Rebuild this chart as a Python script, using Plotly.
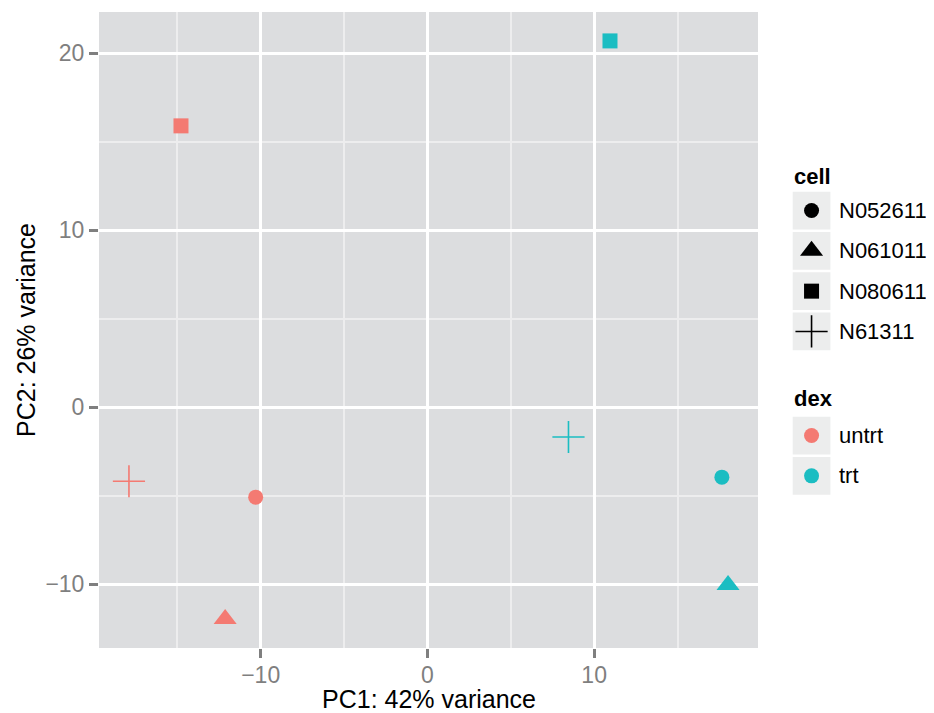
import plotly.graph_objects as go

# ---------------- data ----------------
cells = ["N052611", "N061011", "N080611", "N61311"]
dex_levels = ["untrt", "trt"]

sample_cell = ["N052611", "N052611", "N061011", "N061011",
               "N080611", "N080611", "N61311", "N61311"]
sample_dex = ["untrt", "trt", "untrt", "trt", "untrt", "trt", "untrt", "trt"]
pc1 = [-10.3, 17.66, -12.13, 18.03, -14.78, 10.95, -17.9, 8.46]
pc2 = [-5.08, -3.95, -11.97, -10.04, 15.9, 20.7, -4.18, -1.68]

x_title = "PC1: 42% variance"
y_title = "PC2: 26% variance"
x_ticks = [-10, 0, 10]
y_ticks = [-10, 0, 10, 20]

# ---------------- styles ----------------
dex_colors = {"untrt": "#F47A72", "trt": "#1BBDC2"}
cell_symbols = {"N052611": "circle", "N061011": "triangle-up",
                "N080611": "square", "N61311": "cross-thin-open"}
cell_sizes = {"N052611": 15, "N061011": 20, "N080611": 15, "N61311": 23}
FONT = "Liberation Sans, Arial, Helvetica, sans-serif"
PANEL = "#DCDDDF"
KEYBG = "#ECEDED"
TICKGREY = "#7F7F7F"

# page body has an 8px default margin; work in window pixels and shift
OFF = 8
WIN_W, WIN_H = 934, 713
W, H = WIN_W - OFF, WIN_H - OFF
P_LEFT, P_RIGHT, P_TOP, P_BOTTOM = 99 - OFF, 758 - OFF, 12 - OFF, 648 - OFF
ML, MT, MB = P_LEFT, P_TOP, H - P_BOTTOM
plot_w = W - ML
plot_h = H - MT - MB
main_frac = (P_RIGHT - ML) / plot_w
leg_left = 780 - OFF
leg_frac = (leg_left - ML) / plot_w


def wx(px):  # window px -> figure px (x)
    return px - OFF


def wy(py):
    return py - OFF


def expand(vals, mult=0.05):
    lo, hi = min(vals), max(vals)
    s = hi - lo
    return [lo - mult * s, hi + mult * s]


def px_to_paper_x(px):
    return (px - ML) / plot_w


def px_to_paper_y(py):
    return (H - MB - py) / plot_h


fig = go.Figure()

# data traces, one per cell line, coloured by dex
for c in cells:
    idx = [i for i, sc in enumerate(sample_cell) if sc == c]
    cols = [dex_colors[sample_dex[i]] for i in idx]
    is_line = cell_symbols[c].endswith("open")
    fig.add_trace(go.Scatter(
        x=[pc1[i] for i in idx], y=[pc2[i] for i in idx],
        mode="markers", showlegend=False, xaxis="x", yaxis="y",
        marker=dict(symbol=cell_symbols[c], size=cell_sizes[c], color=cols, opacity=1,
                    line=dict(width=1.6 if is_line else 0, color=cols)),
        hovertext=[f"{c} / {sample_dex[i]}" for i in idx],
    ))

# ---------------- manual ggplot-style legend ----------------
box = 37.7
pitch = 40.3
box_x0 = wx(792.7)
label_x = wx(837.3)
title_x = wx(792.0)
shapes = []
annotations = []


def legend_block(title, title_y, first_top, labels, syms, sizes, colors, widths):
    annotations.append(dict(x=title_x, y=wy(title_y), xref="x2", yref="y2", text=f"<b>{title}</b>",
                            showarrow=False, xanchor="left", yanchor="middle",
                            font=dict(family=FONT, size=22, color="black")))
    ys = []
    for k, lab in enumerate(labels):
        top = wy(first_top) + k * pitch
        shapes.append(dict(type="rect", xref="x2", yref="y2", x0=box_x0, x1=box_x0 + box,
                           y0=top, y1=top + box, fillcolor=KEYBG, line=dict(width=0),
                           layer="below"))
        cy = top + box / 2
        ys.append(cy)
        annotations.append(dict(x=label_x, y=cy, xref="x2", yref="y2", text=lab,
                                showarrow=False, xanchor="left", yanchor="middle",
                                font=dict(family=FONT, size=22, color="black")))
    fig.add_trace(go.Scatter(
        x=[box_x0 + box / 2] * len(labels), y=ys, mode="markers",
        xaxis="x2", yaxis="y2", showlegend=False, hoverinfo="skip",
        marker=dict(symbol=syms, size=sizes, color=colors, opacity=1,
                    line=dict(width=widths, color=colors)),
    ))


legend_block("cell", 176, 191.7, cells,
             [cell_symbols[c] for c in cells], [cell_sizes[c] for c in cells],
             ["black"] * len(cells), [1.6 if cell_symbols[c].endswith("open") else 0 for c in cells])
legend_block("dex", 398, 416.7, dex_levels,
             ["circle"] * len(dex_levels), [15] * len(dex_levels),
             [dex_colors[d] for d in dex_levels], 0)

# axis titles as annotations (ggplot placement)
annotations.append(dict(x=0.5, xref="x domain", y=px_to_paper_y(wy(699)), yref="paper",
                        text=x_title, showarrow=False, xanchor="center", yanchor="middle",
                        font=dict(family=FONT, size=25, color="black")))
annotations.append(dict(x=px_to_paper_x(wx(26)), xref="paper", y=0.5, yref="y domain",
                        text=y_title, showarrow=False, textangle=-90,
                        xanchor="center", yanchor="middle",
                        font=dict(family=FONT, size=25, color="black")))

# panel background
shapes.insert(0, dict(type="rect", xref="x domain", yref="y domain", x0=0, x1=1, y0=0, y1=1,
                      fillcolor=PANEL, line=dict(width=0), layer="below"))

axis_common = dict(
    showline=False, zeroline=False, showgrid=True, gridcolor="white", gridwidth=2.8,
    ticks="outside", ticklen=9, tickwidth=2.7, tickcolor=TICKGREY, automargin=False,
    tickfont=dict(family=FONT, size=23, color=TICKGREY),
    minor=dict(dtick=5, showgrid=True, gridcolor="#EDEDEE", gridwidth=1.7, ticks=""),
)

fig.update_layout(
    width=W, height=H,
    margin=dict(l=ML, r=0, t=MT, b=MB, autoexpand=False),
    paper_bgcolor="white", plot_bgcolor="white",
    showlegend=False,
    font=dict(family=FONT),
    xaxis=dict(domain=[0, main_frac], range=expand(pc1), tickmode="array",
               tickvals=x_ticks, ticktext=[str(v).replace("-", "\u2212") for v in x_ticks],
               ticklabelstandoff=-3, anchor="y", **axis_common),
    yaxis=dict(domain=[0, 1], range=expand(pc2), tickmode="array",
               tickvals=y_ticks, ticktext=[str(v).replace("-", "\u2212") for v in y_ticks],
               anchor="x", **axis_common),
    xaxis2=dict(domain=[leg_frac, 1], range=[leg_left, W], visible=False,
                anchor="y2", fixedrange=True),
    yaxis2=dict(domain=[0, 1], range=[H - MB, MT], visible=False,
                anchor="x2", fixedrange=True),
    shapes=shapes,
    annotations=annotations,
)

fig.write_html("out.html")
